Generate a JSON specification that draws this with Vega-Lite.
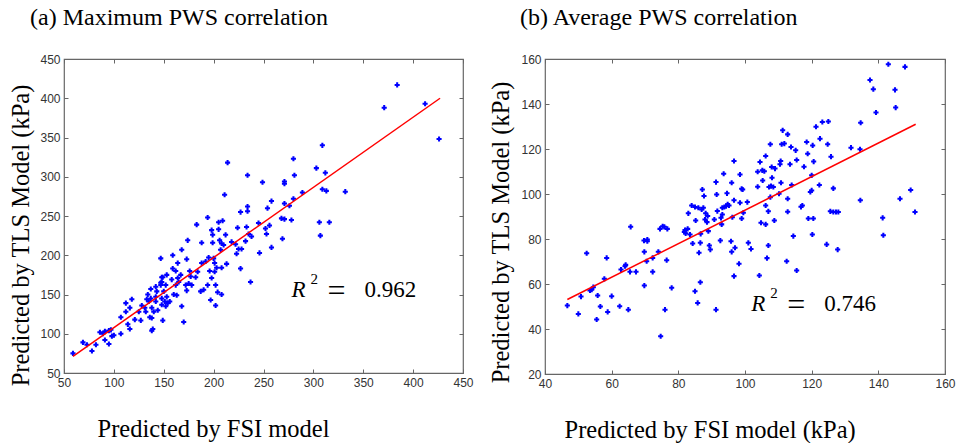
{
  "$schema": "https://vega.github.io/schema/vega-lite/v6.json",
  "padding": {"left": 7, "top": 5, "right": 0, "bottom": 0},
  "background": "white",
  "config": {
    "view": {"stroke": "#666666", "strokeWidth": 1.2},
    "axis": {
      "domain": false, "grid": false,
      "tickSize": -4, "tickColor": "#666666", "tickWidth": 1,
      "labelFont": "Liberation Sans", "labelFontSize": 12, "labelColor": "#333333",
      "labelPadding": 8, "labelFlush": false, "labelOverlap": false,
      "titleFont": "Liberation Serif", "titleFontSize": 24.5, "titleFontWeight": "normal", "titleColor": "#000000"
    },
    "title": {"font": "Liberation Serif", "fontSize": 24, "fontWeight": "normal", "color": "#000000", "anchor": "start", "frame": "group"}
  },
  "datasets": {
    "ptsA": [
      {"fsi":59,"tls":75},{"fsi":69,"tls":89},{"fsi":73,"tls":86},{"fsi":78,"tls":78},{"fsi":82,"tls":86},{"fsi":86,"tls":102},{"fsi":89,"tls":100},{"fsi":91,"tls":92},{"fsi":91,"tls":103},{"fsi":95,"tls":87},{"fsi":95,"tls":104},{"fsi":98,"tls":97},{"fsi":100,"tls":98},{"fsi":97,"tls":105},{"fsi":107,"tls":100},{"fsi":107,"tls":121},{"fsi":112,"tls":139},{"fsi":112,"tls":128},{"fsi":114,"tls":112},{"fsi":116,"tls":106},{"fsi":118,"tls":144},{"fsi":116,"tls":133},{"fsi":121,"tls":118},{"fsi":125,"tls":128},{"fsi":127,"tls":117},{"fsi":128,"tls":136},{"fsi":131,"tls":133},{"fsi":132,"tls":128},{"fsi":133,"tls":144},{"fsi":134,"tls":150},{"fsi":135,"tls":141},{"fsi":136,"tls":121},{"fsi":137,"tls":157},{"fsi":137,"tls":145},{"fsi":138,"tls":133},{"fsi":138,"tls":120},{"fsi":138,"tls":104},{"fsi":139,"tls":106},{"fsi":140,"tls":128},{"fsi":142,"tls":160},{"fsi":142,"tls":147},{"fsi":142,"tls":141},{"fsi":143,"tls":154},{"fsi":144,"tls":130},{"fsi":147,"tls":162},{"fsi":147,"tls":165},{"fsi":147,"tls":196},{"fsi":148,"tls":172},{"fsi":148,"tls":166},{"fsi":148,"tls":145},{"fsi":148,"tls":137},{"fsi":149,"tls":117},{"fsi":149,"tls":172},{"fsi":150,"tls":154},{"fsi":151,"tls":141},{"fsi":152,"tls":162},{"fsi":152,"tls":135},{"fsi":153,"tls":147},{"fsi":153,"tls":175},{"fsi":154,"tls":139},{"fsi":156,"tls":141},{"fsi":158,"tls":169},{"fsi":159,"tls":183},{"fsi":159,"tls":200},{"fsi":160,"tls":150},{"fsi":162,"tls":162},{"fsi":162,"tls":180},{"fsi":163,"tls":149},{"fsi":164,"tls":190},{"fsi":164,"tls":171},{"fsi":165,"tls":166},{"fsi":167,"tls":175},{"fsi":168,"tls":135},{"fsi":168,"tls":207},{"fsi":170,"tls":115},{"fsi":172,"tls":162},{"fsi":173,"tls":155},{"fsi":173,"tls":195},{"fsi":174,"tls":219},{"fsi":175,"tls":164},{"fsi":176,"tls":180},{"fsi":177,"tls":173},{"fsi":178,"tls":162},{"fsi":182,"tls":172},{"fsi":183,"tls":239},{"fsi":184,"tls":179},{"fsi":187,"tls":154},{"fsi":188,"tls":216},{"fsi":188,"tls":190},{"fsi":190,"tls":156},{"fsi":192,"tls":192},{"fsi":194,"tls":248},{"fsi":194,"tls":162},{"fsi":195,"tls":197},{"fsi":196,"tls":180},{"fsi":197,"tls":143},{"fsi":198,"tls":232},{"fsi":199,"tls":226},{"fsi":198,"tls":171},{"fsi":199,"tls":216},{"fsi":200,"tls":196},{"fsi":201,"tls":179},{"fsi":201,"tls":190},{"fsi":202,"tls":162},{"fsi":202,"tls":136},{"fsi":203,"tls":184},{"fsi":204,"tls":153},{"fsi":205,"tls":233},{"fsi":205,"tls":242},{"fsi":206,"tls":219},{"fsi":207,"tls":207},{"fsi":208,"tls":215},{"fsi":208,"tls":184},{"fsi":208,"tls":150},{"fsi":209,"tls":244},{"fsi":210,"tls":213},{"fsi":211,"tls":277},{"fsi":212,"tls":226},{"fsi":213,"tls":189},{"fsi":214,"tls":318},{"fsi":218,"tls":217},{"fsi":222,"tls":214},{"fsi":223,"tls":202},{"fsi":224,"tls":235},{"fsi":225,"tls":208},{"fsi":227,"tls":183},{"fsi":227,"tls":255},{"fsi":228,"tls":208},{"fsi":232,"tls":218},{"fsi":233,"tls":236},{"fsi":234,"tls":302},{"fsi":234,"tls":262},{"fsi":234,"tls":256},{"fsi":235,"tls":227},{"fsi":237,"tls":166},{"fsi":238,"tls":224},{"fsi":245,"tls":241},{"fsi":246,"tls":203},{"fsi":249,"tls":293},{"fsi":252,"tls":234},{"fsi":253,"tls":227},{"fsi":254,"tls":260},{"fsi":256,"tls":238},{"fsi":258,"tls":269},{"fsi":258,"tls":210},{"fsi":268,"tls":247},{"fsi":269,"tls":221},{"fsi":271,"tls":266},{"fsi":271,"tls":294},{"fsi":271,"tls":291},{"fsi":271,"tls":246},{"fsi":276,"tls":263},{"fsi":278,"tls":245},{"fsi":280,"tls":323},{"fsi":281,"tls":302},{"fsi":280,"tls":272},{"fsi":289,"tls":280},{"fsi":303,"tls":311},{"fsi":306,"tls":242},{"fsi":307,"tls":225},{"fsi":309,"tls":340},{"fsi":309,"tls":284},{"fsi":312,"tls":305},{"fsi":313,"tls":282},{"fsi":316,"tls":242},{"fsi":332,"tls":281},{"fsi":371,"tls":388},{"fsi":384,"tls":417},{"fsi":412,"tls":393},{"fsi":426,"tls":348}
    ],
    "fitA": [{"fsi":59,"tls":71.1},{"fsi":427,"tls":400}],
    "annA": [{"fsi":278,"tls":155.7,"r":"R","sup":"2","eq":"=","val":"0.962"}],
    "ptsB": [
      {"fsi":46.7,"tls":50.4},{"fsi":50,"tls":46.7},{"fsi":50.8,"tls":54.4},{"fsi":52.5,"tls":73.7},{"fsi":53.5,"tls":57.1},{"fsi":54,"tls":57.5},{"fsi":54.5,"tls":58.6},{"fsi":55.5,"tls":44.2},{"fsi":55.8,"tls":54.9},{"fsi":56.6,"tls":50},{"fsi":57.8,"tls":62.3},{"fsi":58.5,"tls":71.6},{"fsi":58.8,"tls":47.6},{"fsi":60,"tls":54.6},{"fsi":62.4,"tls":50.1},{"fsi":62.8,"tls":66.4},{"fsi":64,"tls":67.9},{"fsi":64.2,"tls":68.5},{"fsi":65,"tls":48.6},{"fsi":65.5,"tls":65.4},{"fsi":65.7,"tls":85.4},{"fsi":67.3,"tls":65.4},{"fsi":69.7,"tls":79.3},{"fsi":69.8,"tls":74.3},{"fsi":69.8,"tls":59.3},{"fsi":70.5,"tls":70.1},{"fsi":70.7,"tls":79.8},{"fsi":70.7,"tls":79},{"fsi":72.3,"tls":71.6},{"fsi":72.3,"tls":65.4},{"fsi":74,"tls":74.3},{"fsi":74.5,"tls":84.5},{"fsi":74.7,"tls":36.8},{"fsi":75.3,"tls":85.7},{"fsi":75.8,"tls":85.4},{"fsi":76,"tls":48.6},{"fsi":76.5,"tls":70.6},{"fsi":76.7,"tls":84.5},{"fsi":78,"tls":58.3},{"fsi":81.8,"tls":83.1},{"fsi":82,"tls":84},{"fsi":82.2,"tls":82.5},{"fsi":82.8,"tls":84.5},{"fsi":83,"tls":91.4},{"fsi":83.5,"tls":82},{"fsi":84,"tls":94.9},{"fsi":84.3,"tls":78},{"fsi":85,"tls":56.8},{"fsi":85,"tls":94.2},{"fsi":85.2,"tls":88.2},{"fsi":85.8,"tls":51.6},{"fsi":86,"tls":93.9},{"fsi":86.2,"tls":73.9},{"fsi":86.6,"tls":60.8},{"fsi":86.6,"tls":78.3},{"fsi":86.7,"tls":82.3},{"fsi":87,"tls":93.1},{"fsi":87.2,"tls":102},{"fsi":87.5,"tls":93.9},{"fsi":87.7,"tls":99.1},{"fsi":88,"tls":88.7},{"fsi":88.2,"tls":91.4},{"fsi":88.6,"tls":87.5},{"fsi":88.8,"tls":90.2},{"fsi":89,"tls":83.5},{"fsi":89.3,"tls":77.1},{"fsi":89.6,"tls":75.3},{"fsi":90.8,"tls":88.7},{"fsi":91.3,"tls":105.3},{"fsi":91.5,"tls":99.8},{"fsi":91.3,"tls":48.6},{"fsi":91.7,"tls":92.4},{"fsi":92.6,"tls":79.3},{"fsi":92.8,"tls":89.4},{"fsi":93,"tls":86.5},{"fsi":93.2,"tls":90.9},{"fsi":93.2,"tls":93.9},{"fsi":93.6,"tls":109},{"fsi":93.8,"tls":94.2},{"fsi":94.3,"tls":94.6},{"fsi":94.6,"tls":100.3},{"fsi":94.8,"tls":95.4},{"fsi":95.2,"tls":94.9},{"fsi":96,"tls":105},{"fsi":95.8,"tls":79},{"fsi":96,"tls":74.3},{"fsi":96.2,"tls":89.7},{"fsi":96.7,"tls":114.7},{"fsi":96.7,"tls":97.2},{"fsi":97,"tls":76.1},{"fsi":96.7,"tls":63.5},{"fsi":98.2,"tls":69},{"fsi":98.5,"tls":96.1},{"fsi":98.5,"tls":108.7},{"fsi":99,"tls":102.3},{"fsi":99.3,"tls":102},{"fsi":99,"tls":89.1},{"fsi":99.5,"tls":91.7},{"fsi":100.7,"tls":96.4},{"fsi":101,"tls":78.3},{"fsi":101.8,"tls":75.6},{"fsi":103.8,"tls":103.2},{"fsi":103.8,"tls":109.9},{"fsi":104.3,"tls":63.8},{"fsi":104.5,"tls":114.2},{"fsi":104.8,"tls":87.2},{"fsi":105.2,"tls":110.5},{"fsi":105.3,"tls":106},{"fsi":105.8,"tls":110.1},{"fsi":106.2,"tls":116.9},{"fsi":106.2,"tls":94.9},{"fsi":106.2,"tls":86.5},{"fsi":106.6,"tls":71.5},{"fsi":107,"tls":77.1},{"fsi":107,"tls":92.3},{"fsi":107.2,"tls":103.1},{"fsi":107.6,"tls":122.1},{"fsi":107.6,"tls":98.6},{"fsi":107.8,"tls":103.5},{"fsi":108,"tls":112},{"fsi":108.1,"tls":107.2},{"fsi":108.5,"tls":103.1},{"fsi":108.8,"tls":88.2},{"fsi":109,"tls":111.3},{"fsi":110.2,"tls":100.1},{"fsi":110.5,"tls":113.2},{"fsi":110.7,"tls":114.7},{"fsi":110.8,"tls":105},{"fsi":111,"tls":122.1},{"fsi":111.3,"tls":128.3},{"fsi":111.8,"tls":122.4},{"fsi":112.5,"tls":70.1},{"fsi":112.8,"tls":92.1},{"fsi":112.8,"tls":97.9},{"fsi":112.8,"tls":126.5},{"fsi":113.5,"tls":113.2},{"fsi":113.8,"tls":120.9},{"fsi":114,"tls":104},{"fsi":114.5,"tls":81.3},{"fsi":115.2,"tls":119.4},{"fsi":115.5,"tls":115.1},{"fsi":115.5,"tls":66},{"fsi":116.8,"tls":94.3},{"fsi":117.2,"tls":94.9},{"fsi":117.7,"tls":112.1},{"fsi":118.5,"tls":123.1},{"fsi":118.8,"tls":117.9},{"fsi":119,"tls":89.1},{"fsi":119.6,"tls":100.9},{"fsi":120,"tls":101.6},{"fsi":120,"tls":108.3},{"fsi":120.2,"tls":82},{"fsi":120.3,"tls":121.6},{"fsi":120.5,"tls":89.1},{"fsi":120.6,"tls":114.4},{"fsi":121.3,"tls":129.9},{"fsi":122.3,"tls":104},{"fsi":122.5,"tls":124.6},{"fsi":123.2,"tls":132},{"fsi":124.5,"tls":77.6},{"fsi":124.8,"tls":122.1},{"fsi":125,"tls":132.2},{"fsi":125.6,"tls":92.3},{"fsi":125.8,"tls":116.6},{"fsi":126.5,"tls":102.5},{"fsi":126.5,"tls":92},{"fsi":127.3,"tls":92},{"fsi":127.8,"tls":75.3},{"fsi":128,"tls":92},{"fsi":131.8,"tls":120.6},{"fsi":134.5,"tls":119.9},{"fsi":134.7,"tls":131.7},{"fsi":134.6,"tls":97.2},{"fsi":137.5,"tls":150.7},{"fsi":138.5,"tls":146.6},{"fsi":139.3,"tls":136.2},{"fsi":141.3,"tls":89.4},{"fsi":141.5,"tls":81.7},{"fsi":143,"tls":157.7},{"fsi":145,"tls":146.3},{"fsi":145.2,"tls":138.4},{"fsi":146.5,"tls":97.9},{"fsi":148,"tls":156.5},{"fsi":149.7,"tls":101.8},{"fsi":151,"tls":92}
    ],
    "fitB": [{"fsi":46.7,"tls":53.1},{"fsi":151.2,"tls":131}],
    "annB": [{"fsi":101.9,"tls":51.3,"r":"R","sup":"2","eq":"=","val":"0.746"}]
  },
  "hconcat": [
    {
      "width": 399, "height": 314,
      "title": {"text": "(a) Maximum PWS correlation", "dx": -34, "offset": 23},
      "layer": [
        {
          "data": {"name": "ptsA"},
          "mark": {"type": "point", "shape": "cross", "filled": true, "color": "#0000ff", "size": 26, "opacity": 1},
          "encoding": {
            "x": {"field": "fsi", "type": "quantitative", "scale": {"domain": [50, 450], "nice": false, "zero": false},
                  "axis": {"values": [50,100,150,200,250,300,350,400,450], "title": "Predicted by FSI model", "titleAlign": "left", "titleX": 33, "titleY": 56, "titleBaseline": "middle"}},
            "y": {"field": "tls", "type": "quantitative", "scale": {"domain": [50, 450], "nice": false, "zero": false},
                  "axis": {"values": [50,100,150,200,250,300,350,400,450], "title": "Predicted by TLS Model (kPa)", "titleAngle": -90, "titleAlign": "center", "titleBaseline": "middle", "titleX": -43, "titleY": 176}}
          }
        },
        {
          "data": {"name": "fitA"},
          "mark": {"type": "line", "color": "#ff0000", "strokeWidth": 1.5},
          "encoding": {
            "x": {"field": "fsi", "type": "quantitative", "axis": {"orient": "top", "values": [50,100,150,200,250,300,350,400,450], "labels": false, "title": null}},
            "y": {"field": "tls", "type": "quantitative", "axis": {"orient": "right", "values": [50,100,150,200,250,300,350,400,450], "labels": false, "title": null}}
          }
        },
        {
          "data": {"name": "annA"},
          "mark": {"type": "text", "font": "Liberation Serif", "fontSize": 23, "fontStyle": "italic", "align": "left", "baseline": "middle", "color": "#000000"},
          "encoding": {"x": {"field": "fsi", "type": "quantitative", "axis": null}, "y": {"field": "tls", "type": "quantitative", "axis": null}, "text": {"field": "r"}}
        },
        {
          "data": {"name": "annA"},
          "mark": {"type": "text", "font": "Liberation Serif", "fontSize": 15, "align": "left", "baseline": "middle", "dx": 19, "dy": -11, "color": "#000000"},
          "encoding": {"x": {"field": "fsi", "type": "quantitative", "axis": null}, "y": {"field": "tls", "type": "quantitative", "axis": null}, "text": {"field": "sup"}}
        },
        {
          "data": {"name": "annA"},
          "mark": {"type": "text", "font": "Liberation Serif", "fontSize": 32, "align": "left", "baseline": "middle", "dx": 36, "dy": 1, "color": "#000000"},
          "encoding": {"x": {"field": "fsi", "type": "quantitative", "axis": null}, "y": {"field": "tls", "type": "quantitative", "axis": null}, "text": {"field": "eq"}}
        },
        {
          "data": {"name": "annA"},
          "mark": {"type": "text", "font": "Liberation Serif", "fontSize": 23, "align": "left", "baseline": "middle", "dx": 73, "color": "#000000"},
          "encoding": {"x": {"field": "fsi", "type": "quantitative", "axis": null}, "y": {"field": "tls", "type": "quantitative", "axis": null}, "text": {"field": "val"}}
        }
      ],
      "resolve": {"axis": {"x": "independent", "y": "independent"}}
    },
    {
      "width": 400, "height": 315,
      "title": {"text": "(b) Average PWS correlation", "dx": -25, "offset": 23},
      "layer": [
        {
          "data": {"name": "ptsB"},
          "mark": {"type": "point", "shape": "cross", "filled": true, "color": "#0000ff", "size": 26, "opacity": 1},
          "encoding": {
            "x": {"field": "fsi", "type": "quantitative", "scale": {"domain": [40, 160], "nice": false, "zero": false},
                  "axis": {"values": [40,60,80,100,120,140,160], "title": "Predicted by FSI model (kPa)", "titleAlign": "left", "titleX": 19, "titleY": 56, "titleBaseline": "middle"}},
            "y": {"field": "tls", "type": "quantitative", "scale": {"domain": [20, 160], "nice": false, "zero": false},
                  "axis": {"values": [20,40,60,80,100,120,140,160], "title": "Predicted by TLS Model (kPa)", "titleAngle": -90, "titleAlign": "center", "titleBaseline": "middle", "titleX": -44, "titleY": 173}}
          }
        },
        {
          "data": {"name": "fitB"},
          "mark": {"type": "line", "color": "#ff0000", "strokeWidth": 1.5},
          "encoding": {
            "x": {"field": "fsi", "type": "quantitative", "axis": {"orient": "top", "values": [40,60,80,100,120,140,160], "labels": false, "title": null}},
            "y": {"field": "tls", "type": "quantitative", "axis": {"orient": "right", "values": [20,40,60,80,100,120,140,160], "labels": false, "title": null}}
          }
        },
        {
          "data": {"name": "annB"},
          "mark": {"type": "text", "font": "Liberation Serif", "fontSize": 23, "fontStyle": "italic", "align": "left", "baseline": "middle", "color": "#000000"},
          "encoding": {"x": {"field": "fsi", "type": "quantitative", "axis": null}, "y": {"field": "tls", "type": "quantitative", "axis": null}, "text": {"field": "r"}}
        },
        {
          "data": {"name": "annB"},
          "mark": {"type": "text", "font": "Liberation Serif", "fontSize": 15, "align": "left", "baseline": "middle", "dx": 19, "dy": -11, "color": "#000000"},
          "encoding": {"x": {"field": "fsi", "type": "quantitative", "axis": null}, "y": {"field": "tls", "type": "quantitative", "axis": null}, "text": {"field": "sup"}}
        },
        {
          "data": {"name": "annB"},
          "mark": {"type": "text", "font": "Liberation Serif", "fontSize": 32, "align": "left", "baseline": "middle", "dx": 36, "dy": 1, "color": "#000000"},
          "encoding": {"x": {"field": "fsi", "type": "quantitative", "axis": null}, "y": {"field": "tls", "type": "quantitative", "axis": null}, "text": {"field": "eq"}}
        },
        {
          "data": {"name": "annB"},
          "mark": {"type": "text", "font": "Liberation Serif", "fontSize": 23, "align": "left", "baseline": "middle", "dx": 73, "color": "#000000"},
          "encoding": {"x": {"field": "fsi", "type": "quantitative", "axis": null}, "y": {"field": "tls", "type": "quantitative", "axis": null}, "text": {"field": "val"}}
        }
      ],
      "resolve": {"axis": {"x": "independent", "y": "independent"}}
    }
  ],
  "spacing": 13,
  "bounds": "full"
}
